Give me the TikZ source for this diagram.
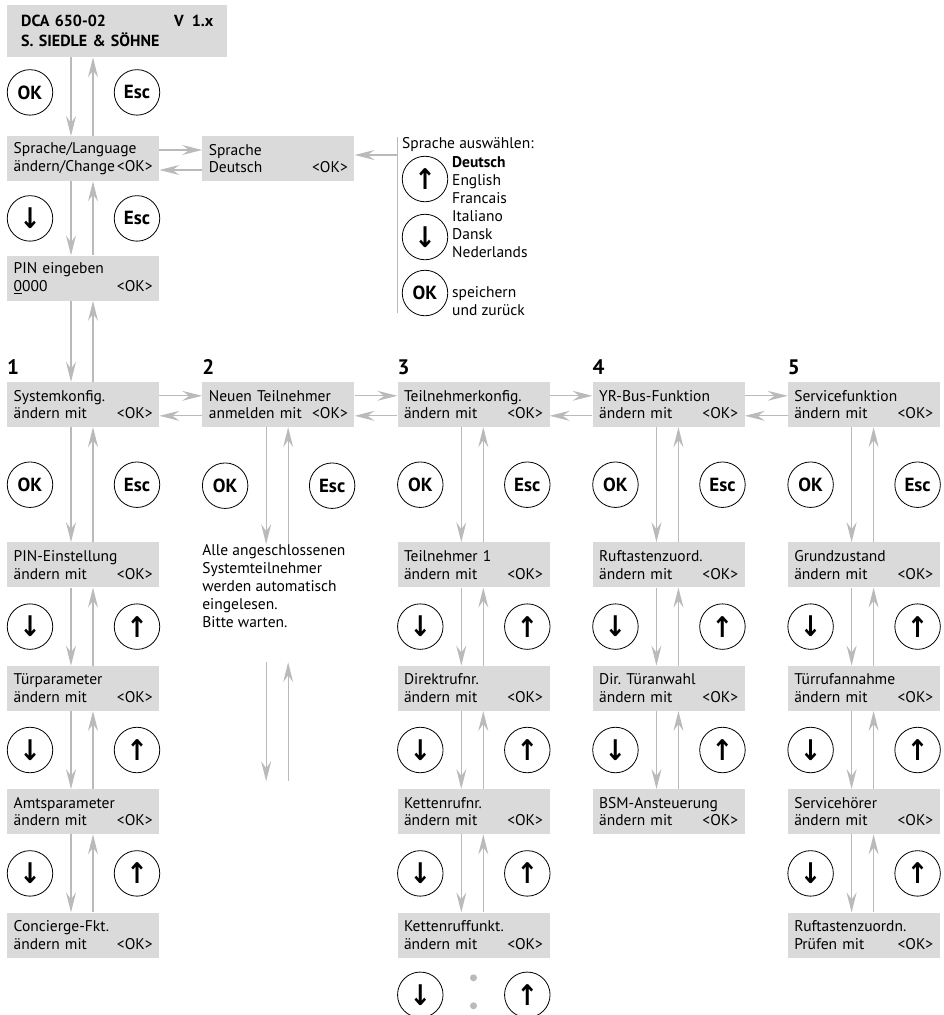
\documentclass[tikz,border=0pt]{standalone}
\usepackage{fontspec}
\setmainfont{PT Sans}
\newfontfamily\keyglyphs{DejaVu Sans}
\usepackage{graphicx}
\usepackage{tikz}
\usetikzlibrary{arrows.meta,positioning,calc}
\usepackage{xcolor}
\definecolor{boxgray}{gray}{0.855}
\definecolor{arrgray}{gray}{0.73}
\newcommand\dnkey{\scalebox{1.35}[1.5]{\keyglyphs\fontsize{19}{19}\selectfont ↓}}
\newcommand\upkey{\scalebox{1.35}[1.5]{\keyglyphs\fontsize{19}{19}\selectfont ↑}}
\frenchspacing

\begin{document}
\begin{tikzpicture}[
    x=1pt, y=-1pt,
    font=\fontsize{15.5}{18}\selectfont,
    box/.style={fill=boxgray, anchor=north west, align=left, text width=139pt, minimum height=45pt, inner xsep=6.5pt, inner ysep=0pt, font=\fontsize{15.5}{17.5}\selectfont},
    key/.style={circle, draw=black, line width=0.8pt, fill=white, minimum size=45.5pt, inner sep=0pt, font=\fontsize{19}{19}\selectfont\bfseries},
    arr/.style={-{Stealth[length=20pt, width=10pt, inset=7pt]}, draw=arrgray, line width=1.2pt},
    num/.style={anchor=base west, inner sep=0pt, font=\fontsize{21}{21}\selectfont\bfseries},
    note/.style={anchor=north west, inner sep=0pt, align=left}
  ]
  \useasboundingbox (0,0) rectangle (943,1015);
  % start screen and language
  \node[box, text width=192pt, inner xsep=14pt, minimum height=52pt, font=\fontsize{16}{20}\selectfont\bfseries] (dca) at (7,5) {DCA 650-02\hfill V\enspace 1.x\\S. SIEDLE \& SÖHNE};
  \node[box] (lang) at (7,136) {Sprache/Language\\ändern/Change\hfill<OK>};
  \node[box, right=42.75pt of lang] (deu) {Sprache\\Deutsch\hfill<OK>};
  \node[box, below=74pt of lang] (pin) {PIN eingeben\\\underline{0}000\hfill<OK>};
  \node[key] (kdcal) at ([xshift=23pt, yshift=-35pt]dca.south west) {OK};
  \node[key] (kdcar) at ([xshift=130pt, yshift=-35pt]dca.south west) {Esc};
  % language list
  \coordinate (ltop) at (397,137);
  \coordinate (lbot) at (397,313);
  \coordinate (lsel) at (397,155);
  \draw[arrgray, line width=1pt] (ltop) -- (lbot);
  \draw[arr] (lsel) -- (lsel -| deu.east);
  \node[note] (sel) at (402,137) {Sprache auswählen:};
  \node[key] (kup) at (425,179) {\upkey};
  \node[key] (kdn) at (425,237) {\dnkey};
  \node[key] (kok) at (425,293) {OK};
  \node[note] (langs) at (452,156) {\textbf{Deutsch}\\English\\Francais\\Italiano\\Dansk\\Nederlands};
  \node[note] (save) at (452,286) {speichern\\und zurück};
  % main menu
  \node[box, below=81pt of pin] (c1) {Systemkonfig.\\ändern mit\hfill<OK>};
  \node[box, right=42.75pt of c1] (c2) {Neuen Teilnehmer\\anmelden mit\hfill<OK>};
  \node[box, right=42.75pt of c2] (c3) {Teilnehmerkonfig.\\ändern mit\hfill<OK>};
  \node[box, right=42.75pt of c3] (c4) {YR-Bus-Funktion\\ändern mit\hfill<OK>};
  \node[box, right=42.75pt of c4] (c5) {Servicefunktion\\ändern mit\hfill<OK>};
  \foreach \c in {1,...,5}
    \node[num] (n\c) at ([yshift=7pt]c\c.north west) {\c};
  % submenus
  \node[box, below=115pt of c1] (a1) {PIN-Einstellung\\ändern mit\hfill<OK>};
  \node[box, below=78pt of a1] (a2) {Türparameter\\ändern mit\hfill<OK>};
  \node[box, below=78pt of a2] (a3) {Amtsparameter\\ändern mit\hfill<OK>};
  \node[box, below=78pt of a3] (a4) {Concierge-Fkt.\\ändern mit\hfill<OK>};
  \node[note] (info) at ([yshift=-117pt]c2.south west) {Alle angeschlossenen\\Systemteilnehmer\\werden automatisch\\eingelesen.\\Bitte warten.};
  \coordinate (w1) at ([yshift=-235pt]c2.south west);
  \coordinate (w2) at ([yshift=-354pt]c2.south west);
  \node[box, below=115pt of c3] (t1) {Teilnehmer 1\\ändern mit\hfill<OK>};
  \node[box, below=78pt of t1] (t2) {Direktrufnr.\\ändern mit\hfill<OK>};
  \node[box, below=78pt of t2] (t3) {Kettenrufnr.\\ändern mit\hfill<OK>};
  \node[box, below=78pt of t3] (t4) {Kettenruffunkt.\\ändern mit\hfill<OK>};
  \node[box, below=115pt of c4] (y1) {Ruftastenzuord.\\ändern mit\hfill<OK>};
  \node[box, below=78pt of y1] (y2) {Dir. Türanwahl\\ändern mit\hfill<OK>};
  \node[box, below=78pt of y2] (y3) {BSM-Ansteuerung\\ändern mit\hfill<OK>};
  \node[box, below=115pt of c5] (s1) {Grundzustand\\ändern mit\hfill<OK>};
  \node[box, below=78pt of s1] (s2) {Türrufannahme\\ändern mit\hfill<OK>};
  \node[box, below=78pt of s2] (s3) {Servicehörer\\ändern mit\hfill<OK>};
  \node[box, below=78pt of s3] (s4) {Ruftastenzuordn.\\Prüfen mit\hfill<OK>};
  % left/right arrows
  \foreach \hi/\lo in {lang/deu, c1/c2, c2/c3, c3/c4, c4/c5} {
    \draw[arr] ([yshift=-14pt]\hi.north east) -- ([yshift=-14pt]\lo.north west);
    \draw[arr] ([yshift=-34pt]\lo.north west) -- ([yshift=-34pt]\hi.north east);
  }
  % up/down arrows and keys
  \foreach \hi/\lo/\kl/\kr in {dca/lang//, lang/pin/\dnkey/Esc, pin/c1//, c1/a1/OK/Esc, a1/a2/\dnkey/\upkey, a2/a3/\dnkey/\upkey, a3/a4/\dnkey/\upkey, c3/t1/OK/Esc, t1/t2/\dnkey/\upkey, t2/t3/\dnkey/\upkey, t3/t4/\dnkey/\upkey, c4/y1/OK/Esc, y1/y2/\dnkey/\upkey, y2/y3/\dnkey/\upkey, c5/s1/OK/Esc, s1/s2/\dnkey/\upkey, s2/s3/\dnkey/\upkey, s3/s4/\dnkey/\upkey} {
    \draw[arr] ([xshift=64pt]\hi.south west) -- ([xshift=64pt]\lo.north west);
    \draw[arr] ([xshift=86pt]\lo.north west) -- ([xshift=86pt]\hi.south west);
    \ifx\kl\empty\else
      \node[key] (k\hi l) at ($(\hi.south west)!0.5!(\lo.north west)+(23,0)$) {\kl};
      \node[key] (k\hi r) at ($(\hi.south west)!0.5!(\lo.north west)+(130,0)$) {\kr};
    \fi
  }
  % column 2
  \draw[arr] ([xshift=64pt]c2.south west) -- ([xshift=64pt]c2.south west |- info.north);
  \draw[arr] ([xshift=86pt]c2.south west |- info.north) -- ([xshift=86pt]c2.south west);
  \node[key] (kc2l) at ($(c2.south west)!0.5!(info.north west)+(23,0)$) {OK};
  \node[key] (kc2r) at ($(c2.south west)!0.5!(info.north west)+(130,0)$) {Esc};
  \draw[arr] ([xshift=64pt]w1) -- ([xshift=64pt]w2);
  \draw[arr] ([xshift=86pt]w2) -- ([xshift=86pt]w1);
  % column 3 continues
  \node[key] (kt4l) at ([xshift=23pt, yshift=-37pt]t4.south west) {\dnkey};
  \node[key] (kt4r) at ([xshift=130pt, yshift=-37pt]t4.south west) {\upkey};
  \fill[arrgray] ([yshift=-20pt]t4.south) circle (3.5pt);
  \fill[arrgray] ([yshift=-48pt]t4.south) circle (3.5pt);
\end{tikzpicture}
\end{document}
